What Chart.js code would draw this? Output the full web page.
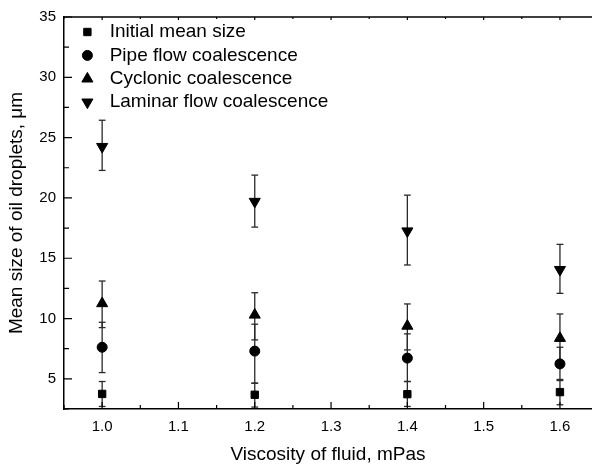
<!DOCTYPE html>
<html>
<head>
<meta charset="utf-8">
<script src="https://cdn.jsdelivr.net/npm/chart.js@4.4.0/dist/chart.umd.min.js"></script>
<style>
  html, body { margin: 0; padding: 0; background: #fff; overflow: hidden; }
  #wrap { width: 592px; height: 466px; }
  canvas { display: block; }
</style>
</head>
<body>
<div id="wrap"><canvas id="dropChart"></canvas></div>
<script>
const viscosity = [1.0, 1.2, 1.4, 1.6];

const initialSize = [3.75, 3.68, 3.73, 3.9];
const initialLow = [2.71, 2.66, 2.71, 2.85];
const initialHigh = [4.78, 4.64, 4.78, 4.95];

const pipeSize = [7.62, 7.3, 6.72, 6.24];
const pipeLow = [5.52, 4.64, 4.78, 4.86];
const pipeHigh = [9.69, 9.53, 8.73, 7.62];

const cyclonicSize = [11.25, 10.3, 9.38, 8.37];
const cyclonicLow = [9.25, 8.23, 7.4, 6.4];
const cyclonicHigh = [13.11, 12.14, 11.21, 10.38];

const laminarSize = [24.25, 19.7, 17.25, 14.05];
const laminarLow = [22.28, 17.58, 14.44, 12.09];
const laminarHigh = [26.44, 21.89, 20.23, 16.15];

const xTicks = [1.0, 1.1, 1.2, 1.3, 1.4, 1.5, 1.6];
const yTicks = [5, 10, 15, 20, 25, 30, 35];

const FONT = '"Liberation Sans", Arial, sans-serif';
Chart.defaults.font.family = FONT;
Chart.defaults.color = '#000';

const series = [
    { label: "Initial mean size", size: initialSize, low: initialLow, high: initialHigh, style: "rect", rotation: 0, radius: 5.2 },
    { label: "Pipe flow coalescence", size: pipeSize, low: pipeLow, high: pipeHigh, style: "circle", rotation: 0, radius: 5 },
    { label: "Cyclonic coalescence", size: cyclonicSize, low: cyclonicLow, high: cyclonicHigh, style: "triangle", rotation: 0, radius: 6.4 },
    { label: "Laminar flow coalescence", size: laminarSize, low: laminarLow, high: laminarHigh, style: "triangle", rotation: 180, radius: 6.4 }
];

const datasets = [];
series.forEach(s => {
    datasets.push({
        type: "scatter",
        label: s.label,
        data: viscosity.map((x, i) => ({ x, y: s.size[i] })),
        pointStyle: s.style,
        rotation: s.rotation,
        pointRadius: s.radius,
        backgroundColor: "#000",
        borderColor: "#000",
        borderWidth: 1,
        order: 0
    });
    // vertical error lines, broken by nulls
    datasets.push({
        type: "line",
        data: viscosity.flatMap((x, i) => [{ x, y: s.low[i] }, { x, y: s.high[i] }, { x, y: null }]),
        borderColor: "#2a2a2a",
        borderWidth: 1.3,
        pointRadius: 0,
        spanGaps: false,
        fill: false,
        order: 1
    });
    // caps
    datasets.push({
        type: "scatter",
        data: viscosity.flatMap((x, i) => [{ x, y: s.low[i] }, { x, y: s.high[i] }]),
        pointStyle: "line",
        pointRadius: 3.4,
        borderColor: "#2a2a2a",
        borderWidth: 1.3,
        order: 1
    });
});

function tickSet(scale) {
    const major = scale.ticks.map(t => t.value);
    const step = major[1] - major[0];
    const minor = [major[0] - step / 2, ...major.map(v => v + step / 2)]
        .filter(v => v >= scale.min && v <= scale.max);
    return { major, minor };
}

const innerTicks = {
    id: "innerTicks",
    afterDraw(chart) {
        const { ctx, chartArea: a, scales: { x, y } } = chart;
        ctx.save();
        ctx.strokeStyle = "#000";
        ctx.lineWidth = 1.5;
        ctx.beginPath();
        ctx.moveTo(a.left, a.top);
        ctx.lineTo(a.right, a.top);
        ctx.stroke();

        ctx.lineWidth = 1.2;
        const xs = tickSet(x);
        const ys = tickSet(y);
        ctx.beginPath();
        xs.major.forEach(v => {
            const px = x.getPixelForValue(v);
            ctx.moveTo(px, a.bottom); ctx.lineTo(px, a.bottom - 7);
            ctx.moveTo(px, a.top); ctx.lineTo(px, a.top + 3);
        });
        xs.minor.forEach(v => {
            const px = x.getPixelForValue(v);
            ctx.moveTo(px, a.bottom); ctx.lineTo(px, a.bottom - 4);
            ctx.moveTo(px, a.top); ctx.lineTo(px, a.top + 2);
        });
        ys.major.forEach(v => {
            const py = y.getPixelForValue(v);
            ctx.moveTo(a.left, py); ctx.lineTo(a.left + 8, py);
        });
        ys.minor.forEach(v => {
            const py = y.getPixelForValue(v);
            ctx.moveTo(a.left, py); ctx.lineTo(a.left + 5, py);
        });
        ctx.stroke();
        ctx.restore();
    }
};

const insideLegend = {
    id: "insideLegend",
    afterDraw(chart) {
        const { ctx, chartArea: a } = chart;
        ctx.save();
        ctx.fillStyle = "#000";
        ctx.strokeStyle = "#000";
        ctx.lineWidth = 1;
        ctx.font = "19px " + FONT;
        ctx.textBaseline = "middle";
        ctx.textAlign = "left";
        series.forEach((s, i) => {
            const yy = a.top + 15 + i * 23.4;
            Chart.helpers.drawPoint(ctx, { pointStyle: s.style, rotation: s.rotation, radius: s.radius, borderWidth: 1 }, a.left + 23.4, yy);
            ctx.fillText(s.label, a.left + 45.7, yy);
        });
        ctx.restore();
    }
};

new Chart(document.getElementById("dropChart"), {
    type: "scatter",
    data: { datasets },
    plugins: [innerTicks, insideLegend],
    options: {
        responsive: true,
        maintainAspectRatio: false,
        animation: false,
        layout: { autoPadding: false, padding: { top: 16, right: 0, left: 0, bottom: 0 } },
        plugins: {
            legend: { display: false },
            tooltip: { enabled: false }
        },
        scales: {
            x: {
                type: "linear",
                min: 0.95,
                max: 1.642,
                offset: false,
                afterBuildTicks: s => { s.ticks = xTicks.map(v => ({ value: v })); },
                afterFit: s => { s.height = 57; s.paddingRight = 0; s.paddingLeft = 0; },
                ticks: {
                    callback: v => Number(v).toFixed(1),
                    font: { size: 15 },
                    color: "#000",
                    padding: 9,
                    maxRotation: 0,
                    autoSkip: false
                },
                grid: { drawOnChartArea: false, drawTicks: false, offset: false },
                border: { color: "#000", width: 1.5 },
                title: {
                    display: true,
                    text: "Viscosity of fluid, mPas",
                    font: { size: 19 },
                    color: "#000",
                    padding: { top: 0, bottom: 0 }
                }
            },
            y: {
                type: "linear",
                min: 2.5,
                max: 35,
                beginAtZero: false,
                afterBuildTicks: s => { s.ticks = yTicks.map(v => ({ value: v })); },
                afterFit: s => { s.width = 64; },
                ticks: {
                    font: { size: 15 },
                    color: "#000",
                    padding: 8
                },
                grid: { drawOnChartArea: false, drawTicks: false },
                border: { color: "#000", width: 1.5 },
                title: {
                    display: true,
                    text: "Mean size of oil droplets, μm",
                    font: { size: 19 },
                    color: "#000",
                    padding: { top: 5, bottom: 0 }
                }
            }
        }
    }
});
</script>
</body>
</html>
